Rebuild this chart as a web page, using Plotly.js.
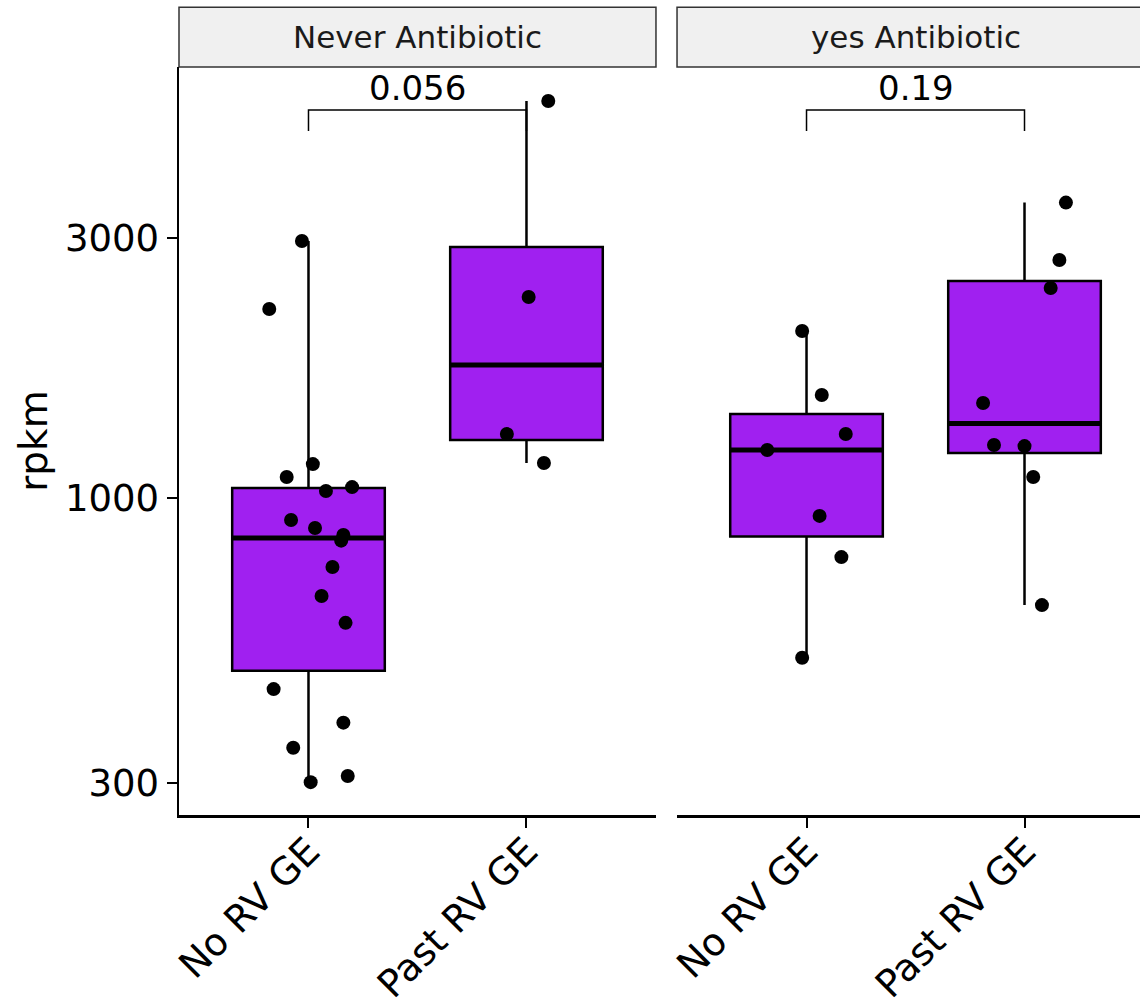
<!DOCTYPE html>
<html>
<head>
<meta charset="utf-8">
<script src="https://cdn.plot.ly/plotly-3.0.1.min.js"></script>
<style>
html, body { margin:0; padding:0; overflow:hidden; background:#fff; }
#chart { width:1160px; height:1000px; }
</style>
</head>
<body>
<div id="chart"></div>
<script>
// ---- data ----
const categories = ['No RV GE', 'Past RV GE'];
const panels = ['Never Antibiotic', 'yes Antibiotic'];
const tickValues = [300, 1000, 3000];
const tickLabels = ['300', '1000', '3000'];

// individual observations (rpkm) and horizontal jitter offsets
const neverNoRV = [2962, 2222, 1154, 1093, 1047, 1030, 911, 881, 855, 835, 747, 661, 590, 446, 387, 348, 309, 301];
const neverNoRVJitter = [-0.03, -0.18, 0.02, -0.10, 0.20, 0.08, -0.08, 0.03, 0.16, 0.15, 0.11, 0.06, 0.17, -0.16, 0.16, -0.07, 0.18, 0.01];
const neverPastRV = [5350, 2338, 1310, 1159];
const neverPastRVJitter = [0.10, 0.01, -0.09, 0.08];
const yesNoRV = [2025, 1545, 1310, 1225, 927, 779, 509];
const yesNoRVJitter = [-0.02, 0.07, 0.18, -0.18, 0.06, 0.16, -0.02];
const yesPastRV = [3483, 2734, 2428, 1494, 1251, 1245, 1093, 636];
const yesPastRVJitter = [0.19, 0.16, 0.12, -0.19, -0.14, 0.00, 0.04, 0.08];

// box statistics per panel [No RV GE, Past RV GE]
const neverQ1 = [482, 1278];
const neverMedian = [844, 1754];
const neverQ3 = [1043, 2888];
const neverLower = [301, 1159];
const neverUpper = [2962, 5350];
const yesQ1 = [850, 1209];
const yesMedian = [1225, 1370];
const yesQ3 = [1426, 2502];
const yesLower = [509, 636];
const yesUpper = [2025, 3483];

// comparison p-values and bracket heights
const pValues = ['0.056', '0.19'];
const bracketTop = [5152, 5152];
const bracketTip = [4714, 4714];

// ---- styling ----
const FONT = 'DejaVu Sans, Liberation Sans, sans-serif';
const FILL = '#A020F0';
const BOXW = 0.7;
const pos = categories.map((c, i) => i);

function boxTrace(xa, q1, med, q3, lo, hi) {
  return {
    type: 'box', xaxis: xa, yaxis: 'y',
    x: pos, q1: q1, median: med, q3: q3, lowerfence: lo, upperfence: hi,
    boxpoints: false, width: BOXW, whiskerwidth: 0,
    fillcolor: FILL, line: { color: '#000', width: 2.5 },
    showlegend: false, hoverinfo: 'skip'
  };
}
function medianTraces(xa, med) {
  return med.map((m, i) => ({
    type: 'scatter', mode: 'lines', xaxis: xa, yaxis: 'y',
    x: [pos[i] - BOXW / 2, pos[i] + BOXW / 2], y: [m, m],
    line: { color: '#000', width: 5 }, showlegend: false, hoverinfo: 'skip'
  }));
}
function pointTrace(xa, idx, vals, jit) {
  return {
    type: 'scatter', mode: 'markers', xaxis: xa, yaxis: 'y',
    x: vals.map((v, i) => idx + jit[i]), y: vals,
    marker: { color: '#000', size: 14 }, showlegend: false, hoverinfo: 'skip'
  };
}
function bracketTrace(xa, k) {
  return {
    type: 'scatter', mode: 'lines', xaxis: xa, yaxis: 'y',
    x: [pos[0], pos[0], pos[1], pos[1]],
    y: [bracketTip[k], bracketTop[k], bracketTop[k], bracketTip[k]],
    line: { color: '#000', width: 1.5 }, showlegend: false, hoverinfo: 'skip'
  };
}

const data = [
  boxTrace('x', neverQ1, neverMedian, neverQ3, neverLower, neverUpper),
  boxTrace('x2', yesQ1, yesMedian, yesQ3, yesLower, yesUpper),
  ...medianTraces('x', neverMedian),
  ...medianTraces('x2', yesMedian),
  pointTrace('x', 0, neverNoRV, neverNoRVJitter),
  pointTrace('x', 1, neverPastRV, neverPastRVJitter),
  pointTrace('x2', 0, yesNoRV, yesNoRVJitter),
  pointTrace('x2', 1, yesPastRV, yesPastRVJitter),
  bracketTrace('x', 0),
  bracketTrace('x2', 1)
];

const xCommon = {
  type: 'linear', range: [-0.594, 1.594],
  tickmode: 'array', tickvals: pos, ticktext: categories,
  tickangle: -45, ticks: 'outside', ticklen: 10, tickwidth: 2, tickcolor: '#000',
  tickfont: { family: FONT, size: 38, color: '#000' },
  ticklabelstandoff: -14,
  showline: true, linecolor: '#000', linewidth: 2.5,
  showgrid: false, zeroline: false, fixedrange: true
};

const layout = {
  width: 1160, height: 1000,
  margin: { l: 179, r: 6, t: 67, b: 185 },
  paper_bgcolor: '#fff', plot_bgcolor: '#fff',
  showlegend: false,
  boxmode: 'overlay',
  font: { family: FONT, color: '#000' },
  xaxis: Object.assign({}, xCommon, { domain: [0, 0.4892], anchor: 'y' }),
  xaxis2: Object.assign({}, xCommon, { domain: [0.5108, 1], anchor: 'y' }),
  yaxis: {
    type: 'log', range: [2.4183, 3.7908],
    tickmode: 'array', tickvals: tickValues, ticktext: tickLabels,
    ticks: 'outside', ticklen: 10, tickwidth: 2, tickcolor: '#000',
    tickfont: { family: FONT, size: 37, color: '#000' },
    showline: true, linecolor: '#000', linewidth: 2.5,
    showgrid: false, zeroline: false, fixedrange: true,
    title: { text: 'rpkm', font: { family: FONT, size: 39, color: '#000' }, standoff: 6 }
  },
  shapes: [
    { type: 'rect', xref: 'x domain', yref: 'paper', x0: 0, x1: 1, y0: 1.0, y1: 1.08,
      fillcolor: '#F0F0F0', line: { color: '#333', width: 1.5 }, layer: 'below' },
    { type: 'rect', xref: 'x2 domain', yref: 'paper', x0: 0, x1: 1, y0: 1.0, y1: 1.08,
      fillcolor: '#F0F0F0', line: { color: '#333', width: 1.5 }, layer: 'below' }
  ],
  annotations: [
    { xref: 'x domain', yref: 'paper', x: 0.5, y: 1.04, text: panels[0], showarrow: false,
      font: { family: FONT, size: 31, color: '#1A1A1A' }, xanchor: 'center', yanchor: 'middle' },
    { xref: 'x2 domain', yref: 'paper', x: 0.5, y: 1.04, text: panels[1], showarrow: false,
      font: { family: FONT, size: 31, color: '#1A1A1A' }, xanchor: 'center', yanchor: 'middle' },
    { xref: 'x', yref: 'y', x: (pos[0] + pos[1]) / 2, y: Math.log10(bracketTop[0]), text: pValues[0],
      showarrow: false, font: { family: FONT, size: 34, color: '#000' }, xanchor: 'center', yanchor: 'bottom' },
    { xref: 'x2', yref: 'y', x: (pos[0] + pos[1]) / 2, y: Math.log10(bracketTop[1]), text: pValues[1],
      showarrow: false, font: { family: FONT, size: 34, color: '#000' }, xanchor: 'center', yanchor: 'bottom' }
  ]
};

Plotly.newPlot('chart', data, layout, { displayModeBar: false, staticPlot: true });
</script>
</body>
</html>
